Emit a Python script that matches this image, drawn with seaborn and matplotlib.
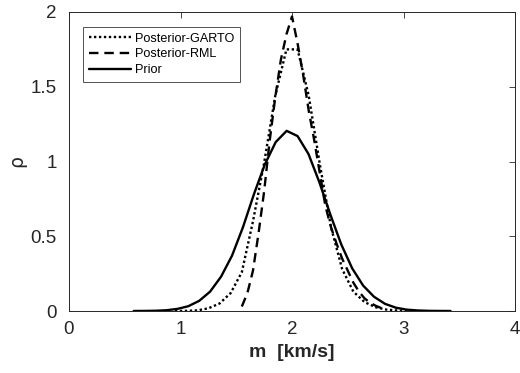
import numpy as np
import pandas as pd
import matplotlib
matplotlib.use("Agg")
import matplotlib.pyplot as plt
import seaborn as sns

# Prior (solid)
prior_x = [0.58, 0.678, 0.776, 0.874, 0.972, 1.070, 1.168, 1.266, 1.364, 1.462,
           1.560, 1.658, 1.756, 1.854, 1.952, 2.050, 2.148, 2.246, 2.344, 2.442,
           2.540, 2.638, 2.736, 2.834, 2.932, 3.030, 3.128, 3.226, 3.324, 3.422]
prior_y = [0.0002, 0.0006, 0.0017, 0.005, 0.014, 0.032, 0.068, 0.13, 0.23, 0.37,
           0.56, 0.78, 0.98, 1.13, 1.205, 1.17, 1.05, 0.86, 0.645, 0.445,
           0.285, 0.17, 0.095, 0.048, 0.022, 0.009, 0.0035, 0.0012, 0.0004, 0.0001]

# Posterior-GARTO (dotted)
garto_x = [0.95, 1.05, 1.15, 1.25, 1.35, 1.45, 1.55, 1.65, 1.75, 1.85, 1.95,
           2.05, 2.15, 2.25, 2.35, 2.45, 2.55, 2.65, 2.75, 2.85, 2.95, 3.05]
garto_y = [0.0002, 0.001, 0.004, 0.018, 0.05, 0.12, 0.26, 0.60, 0.99, 1.44, 1.75,
           1.75, 1.44, 0.98, 0.56, 0.28, 0.13, 0.06, 0.025, 0.009, 0.003, 0.001]

# Posterior-RML (dashed)
rml_x = [1.55, 1.60, 1.65, 1.70, 1.75, 1.80, 1.85, 1.90, 1.95, 2.00, 2.05,
         2.10, 2.15, 2.20, 2.25, 2.30, 2.35, 2.40, 2.45, 2.50, 2.55, 2.60,
         2.65, 2.70, 2.75, 2.80, 2.85]
rml_y = [0.03, 0.12, 0.27, 0.52, 0.80, 1.14, 1.43, 1.68, 1.85, 1.97, 1.79,
         1.58, 1.34, 1.14, 0.92, 0.70, 0.56, 0.45, 0.35, 0.27, 0.19, 0.13,
         0.085, 0.055, 0.035, 0.02, 0.01]

labels = ["Posterior-GARTO", "Posterior-RML", "Prior"]

df = pd.concat([
    pd.DataFrame({"m": garto_x, "rho": garto_y, "series": labels[0]}),
    pd.DataFrame({"m": rml_x, "rho": rml_y, "series": labels[1]}),
    pd.DataFrame({"m": prior_x, "rho": prior_y, "series": labels[2]}),
], ignore_index=True)

sns.set_theme(style="white")
plt.rcParams['font.family'] = ['Liberation Sans', 'DejaVu Sans']

fig = plt.figure(figsize=(5.2, 3.73), dpi=100)
ax = fig.add_axes([69/520, 1 - 311/373, (515-69)/520, (311-12)/373])

styles = {labels[0]: (0, (1, 1.1)), labels[1]: (0, (4, 2.5)), labels[2]: "-"}
for lab in labels:
    sns.lineplot(data=df[df["series"] == lab], x="m", y="rho", ax=ax,
                 color="black", linewidth=1.7, label=lab, estimator=None,
                 sort=False, linestyle=styles[lab])

ax.set_xlim(0, 4)
ax.set_ylim(0, 2)
ax.set_xticks([0, 1, 2, 3, 4])
ax.set_yticks([0, 0.5, 1, 1.5, 2])
ax.set_xticklabels(["0", "1", "2", "3", "4"])
ax.set_yticklabels(["0", "0.5", "1", "1.5", "2"])
ax.tick_params(direction="in", length=4, width=0.6, colors="#262626",
               labelsize=13.5, top=True, right=True, labelcolor="#262626")
ax.tick_params(axis="y", pad=9)
ax.tick_params(axis="x", pad=7.5)
for s in ax.spines.values():
    s.set_color("#262626")
    s.set_linewidth(0.7)
ax.set_xlabel("m  [km/s]", fontsize=14, fontweight="bold", color="#262626", labelpad=4)
ax.set_ylabel("ρ", fontsize=13.5, color="#262626", labelpad=3, family=['DejaVu Sans'])

leg = ax.legend(loc="upper left", bbox_to_anchor=(0.031, 0.95), fontsize=9.1,
                frameon=True, fancybox=False, handlelength=3.4, handletextpad=0.3,
                borderpad=0.45, labelspacing=0.3, borderaxespad=0.0)
leg.get_frame().set_edgecolor("#262626")
leg.get_frame().set_linewidth(0.7)
for t in leg.get_texts():
    t.set_color("#000000")

fig.savefig("out.png", dpi=100)
